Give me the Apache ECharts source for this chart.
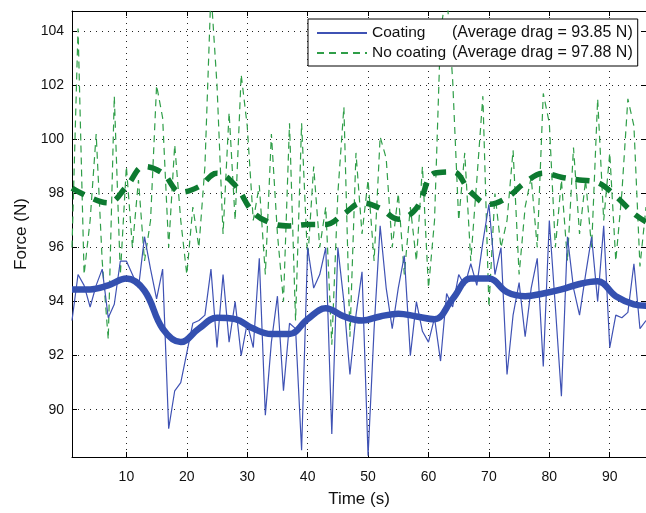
<!DOCTYPE html>
<html>
<head>
<meta charset="utf-8">
<script src="https://cdn.jsdelivr.net/npm/echarts@6/dist/echarts.min.js"></script>
<style>
  html, body { margin: 0; padding: 0; background: #fff; }
  #chart { width: 646px; height: 513px; }
</style>
</head>
<body>
<div id="chart"></div>
<script>
// sample times (s)
var time = [1,2,3,4,5,6,7,8,9,10,11,12,13,14,15,16,17,18,19,20,
  21,22,23,24,25,26,27,28,29,30,31,32,33,34,35,36,37,38,39,40,
  41,42,43,44,45,46,47,48,49,50,51,52,53,54,55,56,57,58,59,60,
  61,62,63,64,65,66,67,68,69,70,71,72,73,74,75,76,77,78,79,80,
  81,82,83,84,85,86,87,88,89,90,91,92,93,94,95,96];

// drag force with coating (N)
var coating = [93.3,95.0,94.6,93.8,94.6,95.2,93.4,93.9,95.5,95.5,
  95.0,94.5,96.4,95.2,94.1,95.2,89.3,90.7,91.0,92.1,
  93.2,93.3,93.5,95.2,92.3,95.0,92.5,94.0,92.0,93.2,
  92.3,95.6,89.8,92.5,94.2,90.7,93.2,93.0,88.5,96.0,
  94.5,95.0,96.0,89.1,96.0,94.0,91.3,93.5,95.1,88.3,
  93.0,96.8,94.5,93.0,94.5,95.7,92.0,94.0,92.9,92.5,
  93.4,91.8,94.3,93.8,95.0,94.6,95.4,94.6,96.2,97.6,
  95.0,96.0,91.3,93.5,94.7,92.7,94.5,95.6,91.6,97.0,
  93.8,90.5,96.4,94.5,93.5,95.0,96.4,94.0,96.8,92.3,
  93.5,93.4,93.6,95.4,93.0,93.3];

// drag force without coating (N)
var noCoating = [96.0,104.1,95.0,97.0,100.2,95.5,92.6,101.6,95.0,99.0,
  96.0,98.5,95.5,97.0,102.0,100.8,96.0,99.8,97.0,95.0,
  97.5,96.0,99.0,105.5,102.0,96.5,101.0,97.0,102.4,100.5,
  97.0,98.3,95.0,100.2,96.5,94.0,100.6,93.3,100.6,95.5,
  99.0,96.0,97.5,92.4,98.0,101.2,92.7,99.5,96.5,98.5,
  95.5,100.1,99.3,96.0,98.0,95.0,97.5,95.5,99.0,94.5,
  97.0,104.0,105.5,102.2,97.0,99.5,95.5,98.5,101.6,93.8,
  98.0,96.0,97.0,99.6,95.0,97.5,98.6,96.0,101.7,100.6,
  96.0,98.5,95.5,99.7,96.5,98.5,96.0,101.5,97.0,99.5,
  95.5,98.0,101.5,100.5,95.3,97.5];

// smoothed trends
var trendTime = [1,4,7,10,13,16,19,22,25,28,31,34,37,40,43,46,49,52,55,58,
  61,64,67,70,73,76,79,82,85,88,91,94,96];
var coatingTrend = [94.45,94.45,94.6,94.85,94.4,93.0,92.5,93.0,93.4,93.35,
  93.0,92.8,92.8,93.35,93.75,93.45,93.3,93.45,93.55,93.45,
  93.35,94.1,94.85,94.85,94.35,94.2,94.3,94.45,94.65,94.75,
  94.2,93.9,93.85];
var noCoatingTrend = [98.2,97.85,97.65,98.25,99.0,98.75,98.05,98.25,98.75,98.3,
  97.3,96.9,96.8,96.85,96.85,97.25,97.65,97.45,97.05,97.45,
  98.75,98.8,98.05,97.6,97.85,98.4,98.75,98.6,98.5,98.4,
  97.9,97.25,96.95];

var xTicks = [10,20,30,40,50,60,70,80,90];
var yTicks = [90,92,94,96,98,100,102,104];
var seriesNames = ['Coating', 'No coating'];
var averages = ['93.85', '97.88'];

function pairs(xs, ys) {
  return xs.map(function (x, i) { return [x, ys[i]]; });
}

var font = 'Liberation Sans, Arial, sans-serif';
var gridLine = { show: true, lineStyle: { color: '#222', width: 1, type: [1, 5] } };

var myChart = echarts.init(document.getElementById('chart'), null, { renderer: 'canvas' });

var option = {
  backgroundColor: '#fff',
  animation: false,
  textStyle: { fontFamily: font },
  grid: { left: 72, right: -1, top: 11, bottom: 53, containLabel: false },
  legend: {
    data: seriesNames,
    orient: 'vertical',
    left: 308,
    top: 19,
    padding: [6, 5, 5, 8],
    itemGap: 4,
    itemWidth: 50,
    itemHeight: 15,
    backgroundColor: '#fff',
    borderColor: '#000',
    borderWidth: 1,
    borderRadius: 0,
    itemStyle: { opacity: 0 },
    formatter: function (name) {
      var i = seriesNames.indexOf(name);
      return '{n|' + name + '}{a|(Average drag = ' + averages[i] + ' N)}';
    },
    textStyle: {
      color: '#111',
      fontFamily: font,
      fontSize: 16,
      rich: {
        n: { width: 80, fontSize: 15.5, fontFamily: font, color: '#111' },
        a: { fontSize: 16, fontFamily: font, color: '#111' }
      }
    }
  },
  xAxis: [{
    type: 'value',
    min: 1,
    max: 96,
    name: 'Time (s)',
    nameLocation: 'middle',
    nameGap: 34,
    nameTextStyle: { fontSize: 17, color: '#111', fontFamily: font },
    axisLine: { show: true, lineStyle: { color: '#000', width: 1 } },
    axisTick: { show: true, inside: true, length: 5, customValues: xTicks, lineStyle: { color: '#000' } },
    axisLabel: { customValues: xTicks, margin: 13, fontSize: 14, color: '#111', fontFamily: font },
    splitLine: gridLine
  }, {
    type: 'value',
    position: 'top',
    min: 1,
    max: 96,
    axisLine: { show: true, lineStyle: { color: '#000', width: 1 } },
    axisTick: { show: true, inside: true, length: 5, customValues: xTicks, lineStyle: { color: '#000' } },
    axisLabel: { show: false },
    splitLine: { show: false }
  }],
  yAxis: [{
    type: 'value',
    min: 88.25,
    max: 104.75,
    name: 'Force (N)',
    nameLocation: 'middle',
    nameGap: 40,
    nameTextStyle: { fontSize: 17, color: '#111', fontFamily: font },
    axisLine: { show: true, lineStyle: { color: '#000', width: 1 } },
    axisTick: { show: true, inside: true, length: 5, customValues: yTicks, lineStyle: { color: '#000' } },
    axisLabel: { customValues: yTicks, margin: 8, fontSize: 14, color: '#111', fontFamily: font },
    splitLine: gridLine
  }, {
    type: 'value',
    position: 'right',
    min: 88.25,
    max: 104.75,
    axisLine: { show: true, lineStyle: { color: '#000', width: 1 } },
    axisTick: { show: true, inside: true, length: 5, customValues: yTicks, lineStyle: { color: '#000' } },
    axisLabel: { show: false },
    splitLine: { show: false }
  }],
  series: [{
    name: 'No coating',
    type: 'line',
    symbol: 'none',
    data: pairs(time, noCoating),
    lineStyle: { color: '#2f9e48', width: 1.2, type: [7, 5] },
    itemStyle: { color: '#2f9e48' },
    z: 2
  }, {
    name: 'Coating',
    type: 'line',
    symbol: 'none',
    data: pairs(time, coating),
    lineStyle: { color: '#3f52b4', width: 1.2 },
    itemStyle: { color: '#3f52b4' },
    z: 3
  }, {
    name: 'No coating trend',
    type: 'line',
    symbol: 'none',
    smooth: 0.4,
    data: pairs(trendTime, noCoatingTrend),
    lineStyle: { color: '#0d7a30', width: 5.5, type: [14, 10] },
    z: 4
  }, {
    name: 'Coating trend',
    type: 'line',
    symbol: 'none',
    smooth: 0.4,
    data: pairs(trendTime, coatingTrend),
    lineStyle: { color: '#3450b0', width: 6.5 },
    z: 5
  }]
};

myChart.setOption(option);
</script>
</body>
</html>
